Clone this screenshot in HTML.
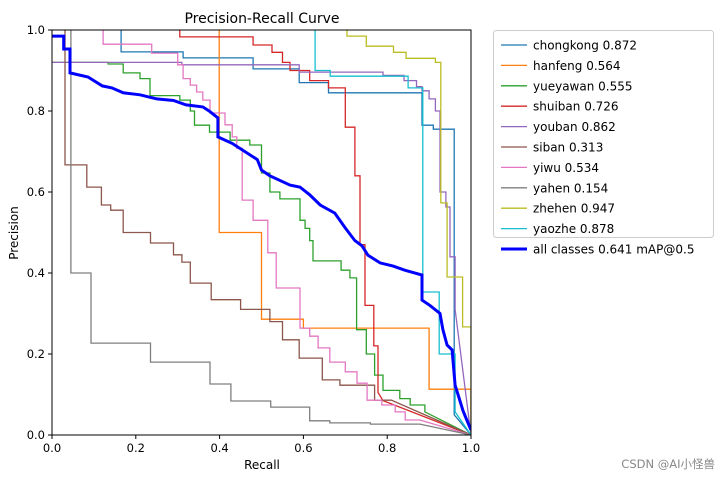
<!DOCTYPE html>
<html><head><meta charset="utf-8"><style>
body{margin:0;background:#fff;width:720px;height:476px;overflow:hidden;font-family:"Liberation Sans","DejaVu Sans",sans-serif}
svg text{font-family:"DejaVu Sans","Liberation Sans","Noto Sans CJK SC",sans-serif}
</style></head><body>
<svg id="c" width="720" height="476"></svg>
<script>
const xTicks=[0,0.2,0.4,0.6,0.8,1.0];
const yTicks=[0,0.2,0.4,0.6,0.8,1.0];
const tickLabels=["0.0","0.2","0.4","0.6","0.8","1.0"];
const names=["chongkong","hanfeng","yueyawan","shuiban","youban","siban","yiwu","yahen","zhehen","yaozhe","all classes"];
const apValues=["0.872","0.564","0.555","0.726","0.862","0.313","0.534","0.154","0.947","0.878","0.641 mAP@0.5"];
const colors=["#1f77b4","#ff7f0e","#2ca02c","#d62728","#9467bd","#8c564b","#e377c2","#7f7f7f","#bcbd22","#17becf","#0000ff"];
const R_chongkong=[0.165,0.165,0.313,0.313,0.48,0.48,0.59,0.59,0.66,0.66,0.883,0.883,0.91,0.91,0.96,0.96,1.0];
const P_chongkong=[1.0,0.946,0.946,0.931,0.931,0.904,0.904,0.87,0.87,0.845,0.845,0.765,0.765,0.755,0.755,0.05,0.0];
const R_hanfeng=[0.399,0.399,0.5,0.5,0.6,0.6,0.9,0.9,1.0,1.0];
const P_hanfeng=[1.0,0.5,0.5,0.286,0.286,0.264,0.264,0.113,0.113,0.0];
const R_yueyawan=[0,0.134,0.134,0.17,0.17,0.21,0.21,0.234,0.234,0.305,0.305,0.33,0.33,0.34,0.34,0.376,0.376,0.425,0.425,0.472,0.472,0.5,0.5,0.52,0.52,0.544,0.544,0.592,0.592,0.604,0.604,0.615,0.615,0.623,0.623,0.69,0.69,0.711,0.711,0.727,0.727,0.75,0.75,0.77,0.77,0.79,0.79,0.83,0.83,0.855,0.855,0.89,0.89,1.0];
const P_yueyawan=[0.92,0.92,0.916,0.916,0.894,0.894,0.88,0.88,0.838,0.838,0.827,0.827,0.8,0.8,0.765,0.765,0.748,0.748,0.728,0.728,0.716,0.716,0.647,0.647,0.6,0.6,0.583,0.583,0.53,0.53,0.51,0.51,0.48,0.48,0.43,0.43,0.407,0.407,0.388,0.388,0.26,0.26,0.2,0.2,0.148,0.148,0.11,0.11,0.09,0.09,0.074,0.074,0.057,0.0];
const R_shuiban=[0.305,0.305,0.48,0.48,0.525,0.525,0.55,0.55,0.568,0.568,0.615,0.615,0.66,0.66,0.7,0.7,0.723,0.723,0.735,0.735,0.747,0.747,0.768,0.768,0.778,0.778,0.79,1.0];
const P_shuiban=[1.0,0.983,0.983,0.963,0.963,0.945,0.945,0.92,0.92,0.9,0.9,0.875,0.875,0.857,0.857,0.76,0.76,0.64,0.64,0.47,0.47,0.32,0.32,0.22,0.22,0.105,0.085,0.0];
const R_youban=[0,0.31,0.31,0.59,0.59,0.79,0.79,0.84,0.84,0.87,0.87,0.883,0.883,0.9,0.9,0.915,0.915,0.926,0.926,0.94,0.94,0.95,0.95,0.962,0.962,1.0];
const P_youban=[0.92,0.92,0.914,0.914,0.896,0.896,0.888,0.888,0.875,0.875,0.86,0.86,0.85,0.85,0.83,0.83,0.8,0.8,0.6,0.6,0.563,0.563,0.44,0.44,0.31,0.0];
const R_siban=[0.031,0.031,0.083,0.083,0.118,0.118,0.14,0.14,0.17,0.17,0.235,0.235,0.29,0.29,0.31,0.31,0.33,0.33,0.38,0.38,0.45,0.45,0.52,0.52,0.55,0.55,0.59,0.59,0.645,0.645,0.687,0.687,0.77,0.77,0.81,1.0];
const P_siban=[1.0,0.667,0.667,0.612,0.612,0.568,0.568,0.555,0.555,0.5,0.5,0.474,0.474,0.445,0.445,0.427,0.427,0.375,0.375,0.334,0.334,0.31,0.31,0.28,0.28,0.235,0.235,0.19,0.19,0.136,0.136,0.123,0.123,0.086,0.086,0.0];
const R_yiwu=[0.122,0.122,0.238,0.238,0.3,0.3,0.313,0.313,0.33,0.33,0.345,0.345,0.36,0.36,0.377,0.377,0.413,0.413,0.43,0.43,0.441,0.441,0.454,0.454,0.48,0.48,0.515,0.515,0.535,0.535,0.592,0.592,0.615,0.615,0.635,0.635,0.663,0.663,0.7,0.7,0.728,0.728,0.752,0.752,0.787,0.787,0.819,0.819,0.843,0.843,0.878,1.0];
const P_yiwu=[1.0,0.965,0.965,0.943,0.943,0.914,0.914,0.88,0.88,0.864,0.864,0.847,0.847,0.827,0.827,0.795,0.795,0.766,0.766,0.736,0.736,0.708,0.708,0.58,0.58,0.53,0.53,0.45,0.45,0.363,0.363,0.264,0.264,0.244,0.244,0.215,0.215,0.18,0.18,0.156,0.156,0.128,0.128,0.086,0.086,0.074,0.074,0.057,0.057,0.037,0.037,0.0];
const R_yahen=[0.045,0.045,0.093,0.093,0.235,0.235,0.377,0.377,0.427,0.427,0.522,0.522,0.615,0.615,0.663,0.663,0.76,0.76,0.878,1.0];
const P_yahen=[1.0,0.4,0.4,0.227,0.227,0.18,0.18,0.126,0.126,0.084,0.084,0.069,0.069,0.035,0.035,0.03,0.03,0.027,0.027,0.0];
const R_zhehen=[0.704,0.704,0.75,0.75,0.815,0.815,0.845,0.845,0.915,0.915,0.928,0.928,0.943,0.943,0.98,0.98,1.0,1.0];
const P_zhehen=[1.0,0.985,0.985,0.96,0.96,0.945,0.945,0.93,0.93,0.92,0.92,0.573,0.573,0.39,0.39,0.267,0.267,0.0];
const R_yaozhe=[0.628,0.628,0.664,0.664,0.85,0.85,0.885,0.885,0.924,0.924,0.962,0.962,1.0];
const P_yaozhe=[1.0,0.9,0.9,0.886,0.886,0.857,0.857,0.353,0.353,0.2,0.2,0.057,0.0];
const R_all=[0,0.028,0.028,0.043,0.043,0.086,0.12,0.143,0.17,0.21,0.25,0.29,0.32,0.36,0.375,0.396,0.396,0.43,0.49,0.5,0.52,0.568,0.592,0.615,0.64,0.675,0.7,0.723,0.74,0.754,0.783,0.814,0.842,0.883,0.883,0.902,0.926,0.933,0.943,0.955,0.962,0.969,0.981,0.99,1.0];
const P_all=[0.985,0.985,0.953,0.953,0.894,0.884,0.862,0.857,0.845,0.84,0.83,0.826,0.815,0.81,0.8,0.783,0.736,0.72,0.68,0.654,0.64,0.617,0.612,0.593,0.568,0.548,0.511,0.48,0.467,0.444,0.425,0.417,0.407,0.395,0.333,0.32,0.3,0.26,0.222,0.21,0.123,0.1,0.06,0.037,0.012];
const seriesR=[R_chongkong,R_hanfeng,R_yueyawan,R_shuiban,R_youban,R_siban,R_yiwu,R_yahen,R_zhehen,R_yaozhe,R_all];
const seriesP=[P_chongkong,P_hanfeng,P_yueyawan,P_shuiban,P_youban,P_siban,P_yiwu,P_yahen,P_zhehen,P_yaozhe,P_all];

const NS="http://www.w3.org/2000/svg";
const svg=document.getElementById('c');
const L=52,R=471,T=30,B=435;
const xs=v=>L+v*(R-L), ys=v=>B-v*(B-T);
function mk(tag,attrs,parent){const e=document.createElementNS(NS,tag);for(const k in attrs)e.setAttribute(k,attrs[k]);(parent||svg).appendChild(e);return e;}
const defs=mk('defs',{});
const cp=mk('clipPath',{id:'clip'},defs);
mk('rect',{x:L,y:T,width:R-L,height:B-T},cp);

const plot=mk('g',{'clip-path':'url(#clip)'});


for(let i=0;i<seriesR.length;i++){
  const pts=seriesR[i].map((r,j)=>xs(r).toFixed(1)+','+ys(seriesP[i][j]).toFixed(1)).join(' ');
  const pl=mk('polyline',{points:pts,fill:'none',stroke:colors[i],'stroke-width':i===10?3:1.3,'stroke-linejoin':'miter'},plot);
  
  
}
const frame=mk('rect',{x:L,y:T,width:R-L,height:B-T,fill:'none',stroke:'#000','stroke-width':1});


for(let i=0;i<xTicks.length;i++){
  const x=xs(xTicks[i]);
  mk('line',{x1:x,y1:B,x2:x,y2:B+4,stroke:'#000'});
  const t=mk('text',{x:x,y:B+17,'font-size':11.5,'text-anchor':'middle'});t.textContent=tickLabels[i];
  
  
}
for(let i=0;i<yTicks.length;i++){
  const y=ys(yTicks[i]);
  mk('line',{x1:L-4,y1:y,x2:L,y2:y,stroke:'#000'});
  const t=mk('text',{x:L-7,y:y+4,'font-size':11.5,'text-anchor':'end'});t.textContent=tickLabels[i];
  
  
}
const title=mk('text',{x:262,y:23,'font-size':14,'text-anchor':'middle'});title.textContent='Precision-Recall Curve';


const xl=mk('text',{x:262,y:469,'font-size':12,'text-anchor':'middle'});xl.textContent='Recall';


const yl=mk('text',{x:18,y:233,'font-size':12,'text-anchor':'middle',transform:'rotate(-90 18 233)'});yl.textContent='Precision';



const lg=mk('g',{});


mk('rect',{x:493.5,y:30.5,width:220,height:207,rx:3,fill:'#fff',stroke:'#ccc'},lg);
for(let i=0;i<names.length;i++){
  const y=45+i*20.4;
  const en=mk('g',{},lg);
  
  
  mk('line',{x1:501,y1:y,x2:527,y2:y,stroke:colors[i],'stroke-width':i===10?3:1.3},en);
  const t=mk('text',{x:533,y:y+4.5,'font-size':12},en);t.textContent=names[i]+' '+apValues[i];
}
const wm=mk('text',{x:715,y:468,'font-size':11.5,'text-anchor':'end',fill:'#888'});wm.textContent='CSDN @AI小怪兽';


</script>
</body></html>
